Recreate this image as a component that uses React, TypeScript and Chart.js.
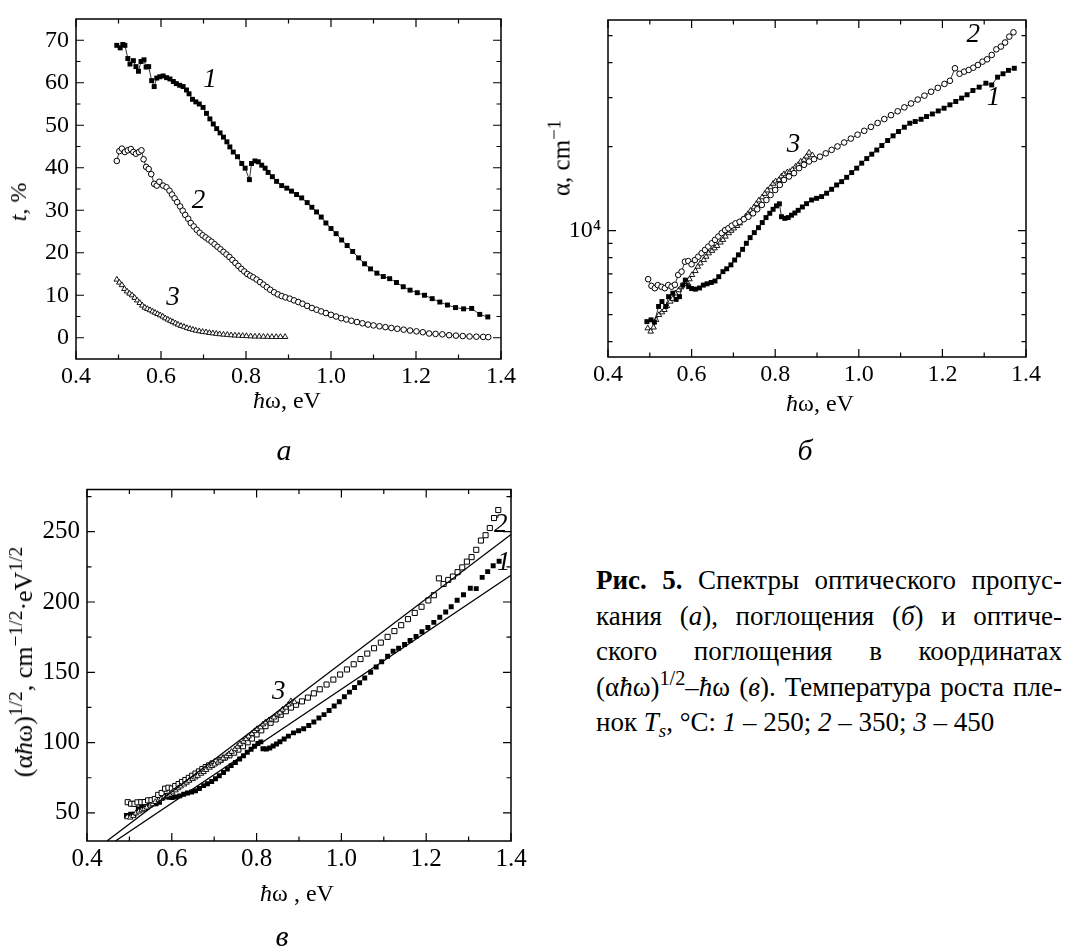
import React, { useEffect, useRef } from 'react';
import { Chart, registerables } from 'chart.js';

Chart.register(...registerables);

const SERIF = "'Liberation Serif', 'Times New Roman', serif";

// ---------- Panel а: transmission t, % ----------
const A_X1 = [0.496,0.504,0.510,0.515,0.522,0.527,0.535,0.541,0.547,0.553,0.560,0.565,0.571,0.578,0.584,0.590,0.597,0.605,0.613,0.621,0.629,0.636,0.644,0.652,0.660,0.666,0.674,0.682,0.690,0.699,0.707,0.715,0.723,0.731,0.739,0.747,0.755,0.762,0.770,0.780,0.790,0.798,0.808,0.813,0.821,0.829,0.837,0.845,0.852,0.862,0.872,0.884,0.896,0.907,0.919,0.931,0.944,0.955,0.966,0.977,0.988,1.000,1.012,1.025,1.038,1.051,1.065,1.079,1.093,1.108,1.123,1.138,1.154,1.170,1.186,1.203,1.220,1.238,1.256,1.274,1.293,1.312,1.331,1.350,1.369];
const A_T1 = [68.8,68.2,69.0,68.8,65.7,64.4,65.2,63.8,62.7,65.0,65.4,63.7,63.8,60.5,59.1,61.1,61.4,61.6,61.2,60.9,60.3,59.8,59.4,59.1,58.3,57.4,56.1,55.5,55.0,54.2,52.8,51.5,50.3,49.2,48.2,47.2,46.1,44.9,43.7,42.6,41.0,39.9,37.2,41.0,41.6,41.4,40.6,39.9,38.9,37.9,36.8,35.8,35.2,34.5,33.7,32.9,31.8,30.7,29.6,28.4,27.0,25.7,24.5,23.0,21.7,20.3,18.8,17.4,16.2,15.2,14.4,13.9,13.0,12.0,11.2,10.6,10.0,9.2,8.4,7.7,7.1,6.8,6.9,5.5,4.9];

const A_X2 = [0.496,0.502,0.508,0.515,0.522,0.529,0.535,0.541,0.548,0.554,0.559,0.565,0.571,0.577,0.584,0.590,0.596,0.605,0.613,0.620,0.626,0.632,0.638,0.645,0.651,0.657,0.664,0.670,0.677,0.684,0.691,0.698,0.705,0.712,0.719,0.726,0.733,0.740,0.747,0.754,0.761,0.768,0.775,0.782,0.789,0.796,0.803,0.810,0.817,0.825,0.833,0.841,0.849,0.857,0.866,0.875,0.884,0.893,0.903,0.913,0.923,0.933,0.944,0.955,0.966,0.977,0.988,1.000,1.012,1.024,1.036,1.048,1.061,1.074,1.087,1.100,1.114,1.128,1.142,1.156,1.171,1.186,1.201,1.216,1.231,1.246,1.262,1.278,1.294,1.310,1.326,1.342,1.358,1.370];
const A_T2 = [41.6,43.9,44.5,43.7,44.1,44.4,43.7,43.3,43.7,44.1,42.0,40.2,39.7,38.5,36.2,35.8,36.7,35.8,35.4,34.6,33.7,32.8,31.9,30.9,29.9,28.9,28.0,27.0,26.2,25.4,24.7,24.1,23.6,23.1,22.6,22.0,21.4,20.8,20.2,19.6,19.0,18.3,17.6,16.9,16.2,15.6,15.0,14.6,14.2,13.7,13.1,12.5,11.9,11.3,10.7,10.2,9.8,9.5,9.2,8.8,8.4,8.0,7.5,7.0,6.6,6.2,5.8,5.4,5.0,4.6,4.3,4.0,3.7,3.4,3.1,2.9,2.7,2.5,2.3,2.1,1.9,1.7,1.5,1.3,1.0,0.9,0.8,0.6,0.5,0.4,0.3,0.25,0.2,0.15];

const A_X3 = [0.496,0.502,0.508,0.514,0.520,0.526,0.532,0.538,0.544,0.550,0.556,0.562,0.568,0.574,0.580,0.586,0.592,0.598,0.604,0.610,0.616,0.622,0.628,0.634,0.640,0.647,0.654,0.661,0.668,0.675,0.682,0.690,0.698,0.706,0.714,0.722,0.730,0.738,0.747,0.756,0.765,0.774,0.783,0.792,0.801,0.811,0.821,0.831,0.841,0.851,0.861,0.871,0.881,0.892];
const A_T3 = [13.7,13.0,12.4,11.5,10.9,10.4,10.0,9.4,8.8,8.2,7.6,7.1,6.8,6.5,6.2,5.9,5.6,5.3,5.0,4.6,4.3,4.0,3.7,3.4,3.1,2.8,2.6,2.3,2.1,1.9,1.7,1.55,1.4,1.3,1.15,1.05,0.95,0.85,0.75,0.7,0.6,0.55,0.5,0.45,0.4,0.35,0.3,0.3,0.25,0.25,0.2,0.2,0.2,0.2];

// ---------- Panel б: absorption α, cm^-1 ----------
const B_X1 = [0.493,0.503,0.511,0.521,0.529,0.538,0.545,0.555,0.563,0.571,0.579,0.585,0.593,0.600,0.609,0.619,0.628,0.637,0.647,0.656,0.665,0.675,0.684,0.694,0.703,0.712,0.722,0.731,0.740,0.750,0.760,0.769,0.778,0.787,0.795,0.803,0.810,0.815,0.823,0.831,0.839,0.847,0.855,0.865,0.875,0.887,0.899,0.911,0.923,0.935,0.947,0.959,0.971,0.983,0.995,1.007,1.019,1.031,1.043,1.055,1.069,1.082,1.095,1.109,1.122,1.135,1.149,1.162,1.176,1.190,1.204,1.218,1.232,1.246,1.259,1.273,1.288,1.304,1.318,1.332,1.345,1.358,1.372];
const B_A1 = [4720,4790,4700,5350,5570,5350,5800,5970,5670,5800,6380,6650,6300,6200,6170,6230,6380,6450,6520,6600,6840,7130,7300,7540,7850,8190,8570,9010,9440,9840,10250,10690,11140,11540,11930,12270,12480,11220,11070,11140,11360,11570,11830,12160,12500,12880,13060,13250,13620,14070,14580,14990,15530,16150,16750,17460,18130,18800,19460,20190,21040,21870,22660,23490,24270,24610,25080,25650,26200,26860,27470,28250,29040,29860,30700,31800,32690,33770,33290,35500,36510,37550,38200];

const B_X2 = [0.496,0.504,0.512,0.519,0.528,0.536,0.544,0.552,0.560,0.568,0.576,0.584,0.592,0.600,0.608,0.616,0.624,0.632,0.640,0.648,0.656,0.664,0.672,0.680,0.688,0.696,0.705,0.715,0.725,0.736,0.747,0.757,0.768,0.779,0.789,0.800,0.811,0.821,0.833,0.845,0.857,0.869,0.881,0.893,0.907,0.921,0.935,0.949,0.965,0.981,0.997,1.013,1.029,1.045,1.061,1.077,1.093,1.109,1.125,1.141,1.157,1.173,1.189,1.205,1.218,1.230,1.241,1.252,1.263,1.274,1.285,1.296,1.307,1.318,1.329,1.340,1.350,1.360,1.370];
const B_A2 = [6700,6340,6220,6380,6290,6220,6380,6300,6400,6940,7130,7740,7780,7580,7850,8070,8300,8530,8770,9010,9270,9530,9800,10040,10200,10420,10620,10760,10990,11220,11540,11930,12360,12880,13420,13990,14580,15200,15630,16070,16750,17220,17700,18030,18420,18930,19480,20040,20700,21380,22080,22800,23550,24320,25120,25940,26790,27670,28570,29510,30480,31480,32510,33570,34450,38200,36500,37150,37670,38390,39250,40350,41130,42640,44670,45700,47250,49600,51400];

const B_X3 = [0.495,0.502,0.509,0.515,0.522,0.529,0.535,0.541,0.549,0.555,0.561,0.569,0.575,0.582,0.589,0.595,0.601,0.609,0.615,0.621,0.629,0.635,0.641,0.649,0.655,0.661,0.669,0.675,0.681,0.689,0.695,0.701,0.709,0.715,0.721,0.729,0.735,0.741,0.749,0.755,0.761,0.769,0.775,0.781,0.789,0.795,0.801,0.809,0.815,0.821,0.829,0.835,0.841,0.849,0.855,0.861,0.869,0.875,0.881,0.889];
const B_A3 = [4470,4350,4500,4790,4990,5100,5200,5370,5570,5700,5960,6120,6270,6450,6550,6700,6940,7170,7430,7640,7850,8070,8300,8470,8650,8820,9070,9270,9530,9800,10000,10190,10400,10630,10930,11220,11480,11790,12130,12480,12850,13180,13560,13950,14320,14740,15030,15200,15660,15950,16190,16260,16520,16990,17220,17700,17960,18450,19050,18650];

// ---------- Panel в: (αħω)^1/2 ----------
const C_X1 = B_X1;
const C_V1 = [48.2,49.1,49.0,52.8,54.3,53.6,56.2,57.6,56.5,57.5,60.8,62.4,61.1,61.0,61.3,62.1,63.3,64.1,64.9,65.8,67.4,69.4,70.7,72.3,74.3,76.4,78.7,81.2,83.6,85.9,88.3,90.7,93.1,95.3,97.4,99.3,100.5,95.6,95.5,96.2,97.6,99.0,100.6,102.6,104.6,106.9,108.4,109.9,112.1,114.7,117.5,119.9,122.8,126.0,129.1,132.6,135.9,139.2,142.5,145.9,150.0,153.8,157.5,161.4,165.0,167.1,169.8,172.6,175.5,178.8,181.9,185.5,189.1,192.9,196.6,201.2,205.2,209.8,209.5,217.5,221.6,225.8,228.9];

const C_X2 = B_X2;
const C_V2 = [57.6,56.5,56.4,57.5,57.6,57.7,58.9,59.0,59.9,62.8,64.1,67.2,67.9,67.4,69.1,70.5,72.0,73.4,74.9,76.4,78.0,79.5,81.2,82.6,83.8,85.2,86.5,87.7,89.3,90.9,92.8,95.0,97.4,100.2,102.9,105.8,108.7,111.7,114.1,116.5,119.8,122.3,124.9,126.9,129.3,132.0,135.0,137.9,141.3,144.8,148.4,152.0,155.7,159.4,163.3,167.1,171.1,175.2,179.3,183.5,187.8,192.2,196.6,201.1,204.8,216.8,212.8,215.7,218.1,221.2,224.6,228.7,231.9,237.1,243.7,247.5,252.6,259.7,265.4];

const C_X3 = B_X3;
const C_V3 = [47.0,46.7,47.9,49.7,51.0,51.9,52.7,53.9,55.3,56.2,57.8,59.0,60.0,61.3,62.1,63.1,64.6,66.1,67.6,68.9,70.3,71.6,72.9,74.1,75.3,76.4,77.9,79.1,80.6,82.2,83.4,84.5,85.9,87.2,88.8,90.4,91.9,93.5,95.3,97.1,98.9,100.7,102.5,104.4,106.3,108.2,109.7,110.9,113.0,114.4,115.9,116.5,117.9,120.1,121.3,123.5,124.9,127.1,129.5,128.8];

// straight-line fits in panel в (end points)
const FIT_A_X = [0.447, 1.4];
const FIT_A_V = [30, 248];
const FIT_B_X = [0.467, 1.4];
const FIT_B_V = [30, 219];

// ---------- tick values ----------
const X_MAJOR = [0.4, 0.6, 0.8, 1.0, 1.2, 1.4];
const X_MINOR = [0.5, 0.7, 0.9, 1.1, 1.3];
const A_Y_MAJOR = [0, 10, 20, 30, 40, 50, 60, 70];
const A_Y_MINOR = [5, 15, 25, 35, 45, 55, 65];
const B_Y_MAJOR = [10000];
const B_Y_MINOR = [4000, 5000, 6000, 7000, 8000, 9000, 20000, 30000, 40000, 50000];
const C_Y_MAJOR = [50, 100, 150, 200, 250];
const C_Y_MINOR = [75, 125, 175, 225, 275];

// curve numbers
const A_LABELS = [{ t: '1', x: 0.715, y: 60.6 }, { t: '2', x: 0.688, y: 32.3 }, { t: '3', x: 0.628, y: 9.3 }];
const B_LABELS = [{ t: '2', x: 1.274, y: 50200 }, { t: '1', x: 1.322, y: 29830 }, { t: '3', x: 0.844, y: 20300 }];
const C_LABELS = [{ t: '2', x: 1.376, y: 255 }, { t: '1', x: 1.383, y: 228 }, { t: '3', x: 0.852, y: 136 }];

const zip = (xs: number[], ys: number[]) =>
  xs.slice(0, Math.min(xs.length, ys.length)).map((x, i) => ({ x, y: ys[i] }));

const framePlugin = {
  id: 'frameTicks',
  afterDatasetsDraw(chart: any, _args: any, o: any) {
    const { ctx, chartArea } = chart;
    const { left, right, top, bottom } = chartArea;
    const xs = chart.scales.x;
    const ys = chart.scales.y;
    ctx.save();
    ctx.strokeStyle = '#000';
    ctx.lineWidth = 1.2;
    ctx.beginPath();
    const xt = (vals: number[], len: number) =>
      vals.forEach((v) => {
        const p = xs.getPixelForValue(v);
        ctx.moveTo(p, bottom);
        ctx.lineTo(p, bottom - len);
        ctx.moveTo(p, top);
        ctx.lineTo(p, top + len);
      });
    const yt = (vals: number[], len: number) =>
      vals.forEach((v) => {
        const p = ys.getPixelForValue(v);
        ctx.moveTo(left, p);
        ctx.lineTo(left + len, p);
        ctx.moveTo(right, p);
        ctx.lineTo(right - len, p);
      });
    xt(o.xMajor, 8);
    xt(o.xMinor, 4.5);
    yt(o.yMajor, 8);
    yt(o.yMinor, 4.5);
    ctx.stroke();
    ctx.lineWidth = 1.5;
    ctx.strokeRect(left, top, right - left, bottom - top);
    ctx.fillStyle = '#000';
    ctx.font = `italic ${o.labelSize}px ${SERIF}`;
    ctx.textAlign = 'center';
    ctx.textBaseline = 'middle';
    (o.labels || []).forEach((l: any) => {
      ctx.fillText(l.t, xs.getPixelForValue(l.x), ys.getPixelForValue(l.y));
    });
    ctx.restore();
  },
};

type Kind = 'fsq' | 'ocirc' | 'otri' | 'osq' | 'fit';

function ds(data: any[], kind: Kind, line: boolean) {
  const base: any = {
    data,
    showLine: line,
    borderColor: '#000',
    borderWidth: 0.8,
    pointBorderColor: '#000',
    pointHoverRadius: 0,
  };
  if (kind === 'fsq') {
    return { ...base, pointStyle: 'rect', pointRadius: 3.5, pointBackgroundColor: '#000', pointBorderWidth: 0 };
  }
  if (kind === 'ocirc') {
    return { ...base, pointStyle: 'circle', pointRadius: 2.8, pointBackgroundColor: '#fff', pointBorderWidth: 1 };
  }
  if (kind === 'otri') {
    return { ...base, pointStyle: 'triangle', pointRadius: 3.2, pointBackgroundColor: '#fff', pointBorderWidth: 0.9 };
  }
  if (kind === 'osq') {
    return { ...base, pointStyle: 'rect', pointRadius: 3.6, pointBackgroundColor: '#fff', pointBorderWidth: 1 };
  }
  return { ...base, showLine: true, borderWidth: 1.3, pointRadius: 0 };
}

function xAxis(height: number, size: number) {
  return {
    type: 'linear',
    min: 0.4,
    max: 1.4,
    bounds: 'data',
    afterBuildTicks: (s: any) => {
      s.ticks = X_MAJOR.map((v) => ({ value: v }));
    },
    afterFit: (s: any) => {
      s.height = height;
    },
    grid: { display: false, drawTicks: false },
    border: { display: false },
    title: { display: false },
    ticks: {
      color: '#000',
      padding: 6,
      maxRotation: 0,
      autoSkip: false,
      font: { family: SERIF, size: size, lineHeight: 1 },
      callback: (v: any) => Number(v).toFixed(1),
    },
  };
}

function yAxis(extra: any, width: number, size: number, majors: number[], cb: (v: number) => string) {
  return {
    bounds: 'data',
    ...extra,
    afterBuildTicks: (s: any) => {
      s.ticks = majors.map((v) => ({ value: v }));
    },
    afterFit: (s: any) => {
      s.width = width;
    },
    grid: { display: false, drawTicks: false },
    border: { display: false },
    title: { display: false },
    ticks: {
      color: '#000',
      padding: 7,
      autoSkip: false,
      font: { family: SERIF, size: size, lineHeight: 1 },
      callback: (v: any) => cb(Number(v)),
    },
  };
}

function baseOptions(padding: any, x: any, y: any, frame: any) {
  return {
    responsive: false,
    animation: false,
    events: [],
    layout: { padding },
    plugins: { legend: { display: false }, tooltip: { enabled: false }, frameTicks: frame },
    scales: { x, y },
  };
}

function configA() {
  return {
    type: 'scatter',
    data: {
      datasets: [
        ds(zip(A_X3, A_T3), 'otri', true),
        ds(zip(A_X2, A_T2), 'ocirc', true),
        ds(zip(A_X1, A_T1), 'fsq', true),
      ],
    },
    options: baseOptions(
      { left: 0, top: 14, right: 29, bottom: 0 },
      xAxis(61, 24),
      yAxis({ type: 'linear', min: -5, max: 75 }, 76, 24, A_Y_MAJOR, (v) => String(v)),
      { xMajor: X_MAJOR, xMinor: X_MINOR, yMajor: A_Y_MAJOR, yMinor: A_Y_MINOR, labels: A_LABELS, labelSize: 27 }
    ),
    plugins: [framePlugin],
  };
}

function configB() {
  return {
    type: 'scatter',
    data: {
      datasets: [
        ds(zip(B_X1, B_A1), 'fsq', true),
        ds(zip(B_X2, B_A2), 'ocirc', true),
        ds(zip(B_X3, B_A3), 'otri', true),
      ],
    },
    options: baseOptions(
      { left: 0, top: 20, right: 41, bottom: 0 },
      xAxis(63, 24),
      yAxis({ type: 'logarithmic', min: 3525, max: 56900 }, 78, 24, B_Y_MAJOR, (v) => (v === 10000 ? '10\u2074' : '')),
      { xMajor: X_MAJOR, xMinor: X_MINOR, yMajor: B_Y_MAJOR, yMinor: B_Y_MINOR, labels: B_LABELS, labelSize: 27 }
    ),
    plugins: [framePlugin],
  };
}

function configC() {
  return {
    type: 'scatter',
    data: {
      datasets: [
        ds(zip(FIT_A_X, FIT_A_V), 'fit', true),
        ds(zip(FIT_B_X, FIT_B_V), 'fit', true),
        ds(zip(C_X3, C_V3), 'otri', false),
        ds(zip(C_X2, C_V2), 'osq', false),
        ds(zip(C_X1, C_V1), 'fsq', false),
      ],
    },
    options: baseOptions(
      { left: 0, top: 17, right: 29, bottom: 0 },
      xAxis(49, 25),
      yAxis({ type: 'linear', min: 30, max: 280 }, 87, 25, C_Y_MAJOR, (v) => String(v)),
      { xMajor: X_MAJOR, xMinor: X_MINOR, yMajor: C_Y_MAJOR, yMinor: C_Y_MINOR, labels: C_LABELS, labelSize: 27 }
    ),
    plugins: [framePlugin],
  };
}

function Panel(props: { left: number; top: number; width: number; height: number; make: () => any }) {
  const ref = useRef<HTMLCanvasElement>(null);
  useEffect(() => {
    const chart = new Chart(ref.current as HTMLCanvasElement, props.make());
    return () => chart.destroy();
  }, []);
  return (
    <canvas
      ref={ref}
      width={props.width}
      height={props.height}
      style={{ position: 'absolute', left: props.left, top: props.top, width: props.width, height: props.height }}
    />
  );
}

const sup: React.CSSProperties = { fontSize: '0.75em', position: 'relative', top: '-0.5em', lineHeight: 0 };

function centered(x: number, y: number, size: number, rotate = false): React.CSSProperties {
  return {
    position: 'absolute',
    left: x,
    top: y,
    transform: rotate ? 'translate(-50%, -50%) rotate(-90deg)' : 'translate(-50%, -50%)',
    whiteSpace: 'nowrap',
    fontSize: size,
    lineHeight: 1,
    fontFamily: SERIF,
  };
}

const LINE_H = 35.5;
const capLine = (justify: boolean): React.CSSProperties => ({
  height: LINE_H,
  lineHeight: `${LINE_H}px`,
  whiteSpace: 'nowrap',
  textAlign: justify ? 'justify' : 'left',
  textAlignLast: justify ? 'justify' : 'left',
} as any);

export default function App() {
  useEffect(() => {
    document.body.style.margin = '0';
  }, []);
  return (
    <div style={{ position: 'relative', width: 1067, height: 951, background: '#fff', color: '#000', fontFamily: SERIF, overflow: 'hidden' }}>
      <Panel left={0} top={0} width={530} height={420} make={configA} />
      <Panel left={530} top={0} width={537} height={420} make={configB} />
      <Panel left={0} top={470} width={540} height={420} make={configC} />

      {/* panel а texts */}
      <div style={centered(18, 202, 24, true)}><i>t</i>, %</div>
      <div style={centered(287, 400, 24)}><i>ħ</i>ω, eV</div>
      <div style={centered(284, 450, 30)}><i>а</i></div>

      {/* panel б texts */}
      <div style={centered(561, 158, 25, true)}>α, cm<span style={sup}>−1</span></div>
      <div style={centered(820, 403, 24)}><i>ħ</i>ω, eV</div>
      <div style={centered(805, 450, 30)}><i>б</i></div>

      {/* panel в texts */}
      <div style={centered(24, 662, 26, true)}>
        (α<i>ħ</i>ω)<span style={sup}>1/2</span>, cm<span style={sup}>−1/2</span>·eV<span style={sup}>1/2</span>
      </div>
      <div style={centered(297, 893, 24)}><i>ħ</i>ω , eV</div>
      <div style={centered(282, 936, 30)}><i>в</i></div>

      {/* caption */}
      <div style={{ position: 'absolute', left: 596, top: 563, width: 466, fontSize: 27, fontFamily: SERIF }}>
        <div style={capLine(true)}><b>Рис. 5.</b> Спектры оптического пропус-</div>
        <div style={capLine(true)}>кания (<i>а</i>), поглощения (<i>б</i>) и оптиче-</div>
        <div style={capLine(true)}>ского поглощения в координатах</div>
        <div style={capLine(true)}>(α<i>ħ</i>ω)<span style={sup}>1/2</span>–<i>ħ</i>ω (<i>в</i>). Температура роста пле-</div>
        <div style={capLine(false)}>нок <i>T<sub style={{ fontSize: '0.7em', lineHeight: 0 }}>s</sub></i>, °C: <i>1</i> – 250; <i>2</i> – 350; <i>3</i> – 450</div>
      </div>
    </div>
  );
}
